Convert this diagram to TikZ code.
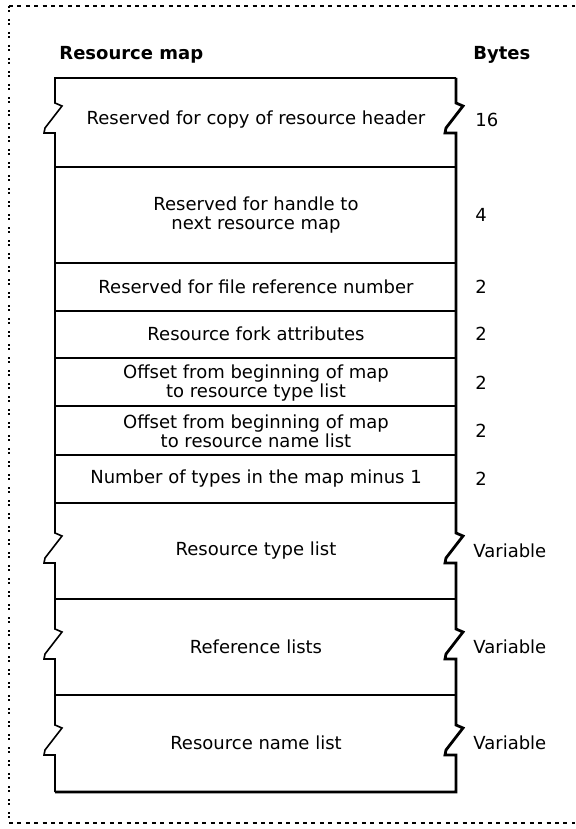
\documentclass[tikz,border=0pt]{standalone}
\usepackage{fontspec}
\setmainfont{DejaVu Sans}
\usetikzlibrary{positioning}
\tikzset{
	field/.style = {align=center, inner sep=0pt, font=\fontsize{9}{9.5}\selectfont},
	bytes/.style = {anchor=west, inner sep=0pt, font=\fontsize{9}{9.5}\selectfont},
	head/.style = {anchor=west, inner sep=0pt, font=\bfseries\fontsize{9}{10}\selectfont},
	thinedge/.style = {line width=0.8pt, line join=miter},
	thickedge/.style = {line width=1.4pt, line join=miter},
	sep/.style = {line width=0.7pt},
	frame/.style = {line width=0.9pt, dash pattern=on 2pt off 2.2pt},
	sideframe/.style = {line width=0.9pt, dash pattern=on 1pt off 1pt on 1pt off 3.5pt},
	zig/.style = {insert path={-- ++(7,3) -- ++(-17,22) -- ++(-1,5) -- ++(11,0)}}
}
\begin{document}
\begin{tikzpicture}[x=0.5pt, y=-0.5pt]
	\useasboundingbox (0,0) rectangle (575,829);
	% dotted frame
	\draw[frame] (9,6) -- (575,6);
	\draw[frame] (9,823) -- (575,823);
	\draw[sideframe] (9,6) -- (9,823);
	% outline of the map
	\draw[thinedge] (456,78) -- (55,78) -- (55,103) [zig] -- (55,533) [zig] -- (55,629) [zig] -- (55,725) [zig] -- (55,792);
	\draw[thickedge] (456,78) -- (456,103) [zig] -- (456,533) [zig] -- (456,629) [zig] -- (456,725) [zig] -- (456,792) -- (55,792);
	\draw[sep] (55,167) -- (456,167);
	\draw[sep] (55,263) -- (456,263);
	\draw[sep] (55,311) -- (456,311);
	\draw[sep] (55,358) -- (456,358);
	\draw[sep] (55,406) -- (456,406);
	\draw[sep] (55,455) -- (456,455);
	\draw[sep] (55,503) -- (456,503);
	\draw[sep] (55,599) -- (456,599);
	\draw[sep] (55,695) -- (456,695);
	% headings
	\node[head] (maphead) at (59,55) {Resource map};
	\node[head] (byteshead) at (473,55) {Bytes};
	% fields
	\node[field] (rsvheader) at (256,120) {Reserved for copy of resource header};
	\node[field] (rsvhandle) at (256,215) {Reserved for handle to\\next resource map};
	\node[field] (rsvfile) at (256,287) {Reserved for file reference number};
	\node[field] (forkattr) at (256,334) {Resource fork attributes};
	\node[field] (typeoff) at (256,383) {Offset from beginning of map\\to resource type list};
	\node[field] (nameoff) at (256,431) {Offset from beginning of map\\to resource name list};
	\node[field] (numtypes) at (256,479) {Number of types in the map minus 1};
	\node[field] (typelist) at (256,551) {Resource type list};
	\node[field] (reflists) at (256,647) {Reference lists};
	\node[field] (namelist) at (256,743) {Resource name list};
	% sizes
	\node[bytes] (bheader) at (475,120) {16};
	\node[bytes] (bhandle) at (475,215) {4};
	\node[bytes] (bfile) at (475,287) {2};
	\node[bytes] (battr) at (475,334) {2};
	\node[bytes] (btypeoff) at (475,383) {2};
	\node[bytes] (bnameoff) at (475,431) {2};
	\node[bytes] (bnum) at (475,479) {2};
	\node[bytes] (btypes) at (473,551) {Variable};
	\node[bytes] (brefs) at (473,647) {Variable};
	\node[bytes] (bnames) at (473,743) {Variable};
\end{tikzpicture}
\end{document}
